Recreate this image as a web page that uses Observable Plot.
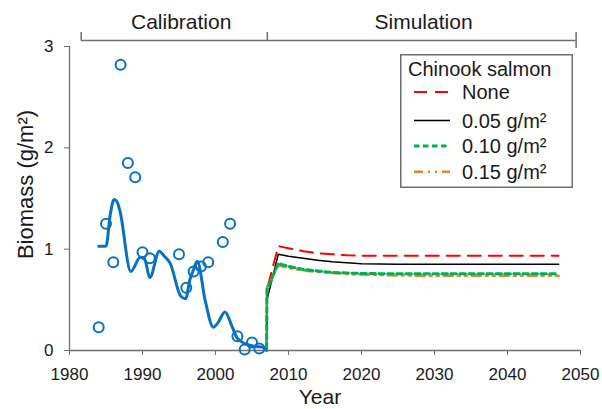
<!DOCTYPE html>
<html>
<head>
<meta charset="utf-8">
<script src="https://cdn.jsdelivr.net/npm/d3@7"></script>
<script src="https://cdn.jsdelivr.net/npm/@observablehq/plot@0.6"></script>
<style>
  html, body { margin: 0; padding: 0; background: #fff; }
  #wrap { position: relative; width: 602px; height: 409px; font-family: "Liberation Sans", Arial, sans-serif; }
  #legend { position: absolute; left: 400px; top: 54px; }
</style>
</head>
<body>
<div id="wrap"></div>
<script>
// ---------- data ----------
const obsYears  = [1984, 1985, 1986, 1987, 1988, 1989, 1990, 1991, 1995, 1996, 1997, 1998, 1999, 2001, 2002, 2003, 2004, 2005, 2006];
const obsValues = [0.23, 1.25, 0.87, 2.82, 1.85, 1.71, 0.97, 0.91, 0.95, 0.62, 0.78, 0.83, 0.87, 1.07, 1.25, 0.14, 0.01, 0.08, 0.02];

const calYears  = [1984, 1985, 1985.6, 1986.1, 1986.5, 1986.9, 1988.4, 1989.7, 1990.3, 1991.0, 1992.3, 1993.0, 1993.8, 1995.2, 1995.9, 1996.5, 1997.0, 1997.5, 1998.6, 1999.7, 2000.3, 2001.3, 2002.3, 2002.9, 2003.5, 2004.3, 2005.5, 2006.6, 2007];
const calValues = [1.03, 1.03, 1.35, 1.49, 1.47, 1.38, 0.78, 0.92, 0.90, 0.72, 0.98, 0.93, 0.86, 0.54, 0.51, 0.70, 0.80, 0.88, 0.49, 0.23, 0.27, 0.38, 0.23, 0.13, 0.09, 0.06, 0.04, 0.03, 0.00];

const simYears   = [2007, 2007.05, 2008.6, 2010, 2012, 2014, 2016, 2018, 2020, 2025, 2030, 2035, 2040, 2045, 2047];
const simNone    = [0.02, 0.60, 1.03, 1.01, 0.98, 0.96, 0.95, 0.94, 0.935, 0.935, 0.935, 0.935, 0.935, 0.935, 0.935];
const sim005     = [0.02, 0.50, 0.95, 0.93, 0.91, 0.89, 0.875, 0.865, 0.855, 0.852, 0.852, 0.852, 0.852, 0.852, 0.852];
const sim010     = [0.02, 0.60, 0.86, 0.83, 0.80, 0.785, 0.77, 0.765, 0.76, 0.757, 0.757, 0.757, 0.757, 0.757, 0.757];
const sim015     = [0.02, 0.62, 0.84, 0.815, 0.79, 0.775, 0.765, 0.755, 0.75, 0.74, 0.737, 0.737, 0.737, 0.737, 0.737];

const seriesNames = ["None", "0.05 g/m²", "0.10 g/m²", "0.15 g/m²"];
const legendTitle = "Chinook salmon";
const xTicks = [1980, 1990, 2000, 2010, 2020, 2030, 2040, 2050];
const yTicks = [0, 1, 2, 3];
const periodLabels = ["Calibration", "Simulation"];
const periodLabelYears = [1995.3, 2028.5];
const bracketYears = [1981.6, 2007.1, 2049.4];

// ---------- styles ----------
const styles = [
  {stroke: "#ff0000", strokeWidth: 2,   dash: "13,8"},
  {stroke: "#000000", strokeWidth: 1.5, dash: null},
  {stroke: "#00b050", strokeWidth: 3,   dash: "5.5,3.5"},
  {stroke: "#e8823a", strokeWidth: 2.5, dash: "9,5,2,5,2,5"}
];
const simSeries = [simNone, sim005, sim010, sim015];
const blue = "#0a70c0";
const axisGray = "#6e6e6e";
const textColor = "#1a1a1a";

const obs = obsYears.map((x, i) => ({x, y: obsValues[i]}));
const cal = calYears.map((x, i) => ({x, y: calValues[i]}));
const sims = simSeries.map(vals => simYears.map((x, i) => ({x, y: vals[i]})));

const W = 602, H = 409, mT = 46, mB = 59, mL = 69, mR = 22;
const pxPerUnit = (H - mT - mB) / 3;
const up = px => 3 + px / pxPerUnit; // y-value above the top of the frame

const drawOrder = [0, 1, 3, 2];

const plot = Plot.plot({
  width: W, height: H,
  marginTop: mT, marginBottom: mB, marginLeft: mL, marginRight: mR,
  x: {domain: [1980, 2050]},
  y: {domain: [0, 3]},
  style: {fontFamily: "'Liberation Sans', Arial, sans-serif", fontSize: "17px", color: textColor, background: "white", overflow: "visible"},
  marks: [
    Plot.axisX({ticks: xTicks, tickFormat: d => String(d), tickSize: 5, tickPadding: 12, label: null, stroke: axisGray}),
    Plot.axisY({ticks: yTicks, tickFormat: d => String(d), tickSize: 5, tickPadding: 11, label: null, stroke: axisGray}),
    Plot.ruleY([0], {stroke: axisGray, strokeWidth: 1.3}),
    Plot.ruleX([1980], {stroke: axisGray, strokeWidth: 1.3}),
    // period bracket
    Plot.ruleY([3], {x1: bracketYears[0], x2: bracketYears[2], dy: -6, stroke: axisGray, strokeWidth: 1.5}),
    Plot.ruleX(bracketYears.slice(0, 2), {y1: up(6), y2: up(14), stroke: axisGray, strokeWidth: 1.5}),
    Plot.ruleX(bracketYears.slice(2), {y1: up(-2), y2: up(14), stroke: axisGray, strokeWidth: 1.5}),
    Plot.text(periodLabels, {x: (d, i) => periodLabelYears[i], y: 3, dy: -24, fontSize: 21, fill: textColor}),
    // axis titles
    Plot.text(["Biomass (g/m²)"], {frameAnchor: "left", textAnchor: "middle", lineAnchor: "middle", dx: -44, dy: -14, rotate: -90, fontSize: 22, fill: textColor}),
    Plot.text(["Year"], {frameAnchor: "bottom", textAnchor: "middle", lineAnchor: "middle", dx: -5, dy: 47, fontSize: 21, fill: textColor}),
    // simulation lines
    ...drawOrder.map(k => Plot.line(sims[k], {x: "x", y: "y", stroke: styles[k].stroke, strokeWidth: styles[k].strokeWidth, strokeDasharray: styles[k].dash})),
    // calibration model & observations
    Plot.line(cal, {x: "x", y: "y", stroke: blue, strokeWidth: 3, strokeLinejoin: "round", curve: "monotone-x"}),
    Plot.dot(obs, {x: "x", y: "y", r: 5, stroke: blue, strokeWidth: 2, fill: "none"})
  ]
});

const wrap = document.getElementById("wrap");
wrap.appendChild(plot);

// ---------- legend ----------
const lw = 173, lh = 134;
const legend = d3.create("svg")
  .attr("id", "legend")
  .attr("width", lw).attr("height", lh)
  .style("font-family", "'Liberation Sans', Arial, sans-serif");
legend.append("rect").attr("x", 0.75).attr("y", 0.75).attr("width", lw - 1.5).attr("height", lh - 1.5)
  .attr("fill", "white").attr("stroke", axisGray).attr("stroke-width", 1.5);
legend.append("text").attr("x", 8).attr("y", 14.5).attr("dy", "0.35em")
  .attr("font-size", 20).attr("fill", textColor).text(legendTitle);
const rowY = [38, 66.5, 92, 117.7];
seriesNames.forEach((name, k) => {
  legend.append("line").attr("x1", 14).attr("x2", 50).attr("y1", rowY[k]).attr("y2", rowY[k])
    .attr("stroke", styles[k].stroke).attr("stroke-width", styles[k].strokeWidth)
    .attr("stroke-dasharray", styles[k].dash);
  legend.append("text").attr("x", 62).attr("y", rowY[k]).attr("dy", "0.35em")
    .attr("font-size", 20).attr("fill", textColor).text(name);
});
wrap.appendChild(legend.node());
</script>
</body>
</html>
